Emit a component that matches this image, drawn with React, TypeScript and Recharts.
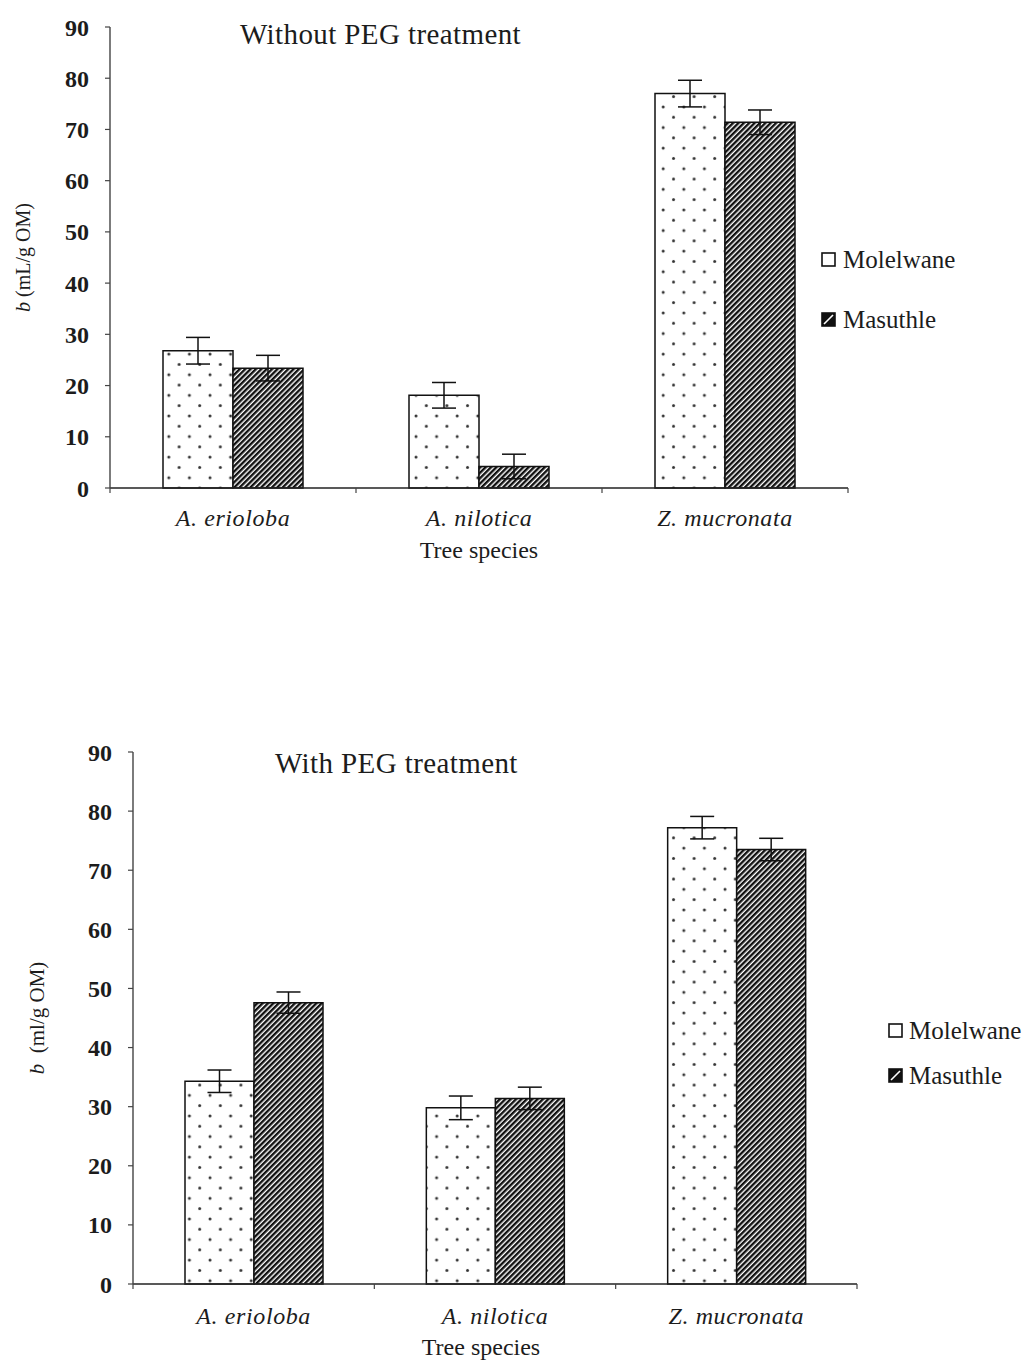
import React from 'react'
import { BarChart, Bar, XAxis, YAxis, ErrorBar, Legend, Label } from 'recharts'

const species = ['A. erioloba', 'A. nilotica', 'Z. mucronata']
const seriesNames = ['Molelwane', 'Masuthle']
const yTicks = [0, 10, 20, 30, 40, 50, 60, 70, 80, 90]

// Without PEG treatment
const withoutMolelwane = [26.8, 18.1, 77.0]
const withoutMolelwaneErr = [2.6, 2.5, 2.6]
const withoutMasuthle = [23.4, 4.2, 71.4]
const withoutMasuthleErr = [2.5, 2.4, 2.4]

// With PEG treatment
const withMolelwane = [34.3, 29.8, 77.2]
const withMolelwaneErr = [1.9, 2.0, 1.9]
const withMasuthle = [47.6, 31.4, 73.5]
const withMasuthleErr = [1.8, 1.9, 1.9]

const FONT = '"Liberation Serif", "Times New Roman", serif'
const INK = '#1c1c1c'
const CHART_W = 1028

const buildRows = (mol: number[], molErr: number[], mas: number[], masErr: number[]) =>
  species.map((s, i) => ({ species: s, mol: mol[i], molErr: molErr[i], mas: mas[i], masErr: masErr[i] }))

const withoutRows = buildRows(withoutMolelwane, withoutMolelwaneErr, withoutMasuthle, withoutMasuthleErr)
const withRows = buildRows(withMolelwane, withMolelwaneErr, withMasuthle, withMasuthleErr)

function Patterns() {
  return (
    <svg width={0} height={0} style={{ position: 'absolute' }}>
      <defs>
        <pattern id="dots" patternUnits="userSpaceOnUse" width={20.6} height={20.6}>
          <rect width={20.6} height={20.6} fill="#fff" />
          <circle cx={4} cy={4} r={1.5} fill="#333" />
          <circle cx={14.3} cy={14.3} r={1.5} fill="#333" />
        </pattern>
        <pattern id="hatch" patternUnits="userSpaceOnUse" width={3.8} height={3.8} patternTransform="rotate(45)">
          <rect width={3.8} height={3.8} fill="#fff" />
          <rect x={0} y={0} width={2.4} height={3.8} fill="#111" />
        </pattern>
      </defs>
    </svg>
  )
}

function PatternLegend({ gap, textGap }: { gap: number; textGap: number }) {
  return (
    <div style={{ fontFamily: FONT, fontSize: 25, color: INK, lineHeight: '28px', width: 'max-content' }}>
      {seriesNames.map((name, i) => (
        <div key={name} style={{ display: 'flex', alignItems: 'center', marginTop: i ? gap : 0, whiteSpace: 'nowrap' }}>
          <svg width={16} height={16} style={{ flexShrink: 0, display: 'block' }}>
            <rect x={1} y={1} width={13} height={13} fill={i ? '#111' : '#fff'} stroke="#111" strokeWidth={1.6} />
            {i ? <line x1={3} y1={12} x2={12} y2={3} stroke="#fff" strokeWidth={1.6} /> : null}
          </svg>
          <span style={{ marginLeft: textGap }}>{name}</span>
        </div>
      ))}
    </div>
  )
}

function YTitle({ viewBox, cx, unit, size }: any) {
  const cy = viewBox.y + viewBox.height / 2
  return (
    <text
      x={cx}
      y={cy}
      transform={`rotate(-90, ${cx}, ${cy})`}
      textAnchor="middle"
      dominantBaseline="central"
      fontFamily={FONT}
      fontSize={size}
      fill={INK}
    >
      <tspan fontStyle="italic">b</tspan>
      <tspan>{unit}</tspan>
    </text>
  )
}

// category tick: italic name, with small tick marks on the category boundaries
function SpeciesTick({ x, y, payload, index, band, gap }: any) {
  const half = band / 2
  return (
    <g>
      <line x1={x - half} x2={x - half} y1={y} y2={y + 5} stroke="#444" strokeWidth={1.2} />
      {index === species.length - 1 ? (
        <line x1={x + half} x2={x + half} y1={y} y2={y + 5} stroke="#444" strokeWidth={1.2} />
      ) : null}
      <text
        x={x}
        y={y + gap}
        dy="0.71em"
        textAnchor="middle"
        fontFamily={FONT}
        fontSize={24}
        fontStyle="italic"
        letterSpacing={0.6}
        fill={INK}
      >
        {payload.value}
      </text>
    </g>
  )
}

type PanelProps = {
  rows: any[]
  top: number
  height: number
  plotLeft: number
  marginTop: number
  marginRight: number
  axisHeight: number
  barSize: number
  labelMargin: number
  yLabelX: number
  yUnit: string
  yLabelSize: number
  speciesOffset: number
  speciesDx: number
  legendLeft: number
  legendTop: number
  legendGap: number
  legendTextGap: number
  title: string
  titleLeft: number
  titleTop: number
}

function Panel(p: PanelProps) {
  const band = (CHART_W - p.plotLeft - p.marginRight) / species.length
  return (
    <div style={{ position: 'absolute', left: 0, top: p.top, width: CHART_W, height: p.height }}>
      <div
        style={{
          position: 'absolute',
          left: p.titleLeft,
          top: p.titleTop,
          fontFamily: FONT,
          fontSize: 29,
          lineHeight: '29px',
          letterSpacing: 0.4,
          color: INK,
          whiteSpace: 'nowrap',
          zIndex: 2,
        }}
      >
        {p.title}
      </div>
      <BarChart
        width={CHART_W}
        height={p.height}
        data={p.rows}
        margin={{ top: p.marginTop, right: p.marginRight, bottom: 0, left: 0 }}
        barGap={0}
        barSize={p.barSize}
      >
        <XAxis
          dataKey="species"
          height={p.axisHeight}
          axisLine={{ stroke: '#222', strokeWidth: 1.5 }}
          tickLine={false}
          tickSize={0}
          tickMargin={0}
          interval={0}
          tick={(props: any) => <SpeciesTick {...props} band={band} gap={p.labelMargin} />}
        >
          <Label
            value="Tree species"
            position="insideBottom"
            offset={p.speciesOffset}
            dx={p.speciesDx}
            fontFamily={FONT}
            fontSize={24}
            fill={INK}
          />
        </XAxis>
        <YAxis
          domain={[0, 90]}
          ticks={yTicks}
          interval={0}
          width={p.plotLeft}
          axisLine={{ stroke: '#444', strokeWidth: 1.4 }}
          tickLine={{ stroke: '#444', strokeWidth: 1.2 }}
          tickSize={5}
          tickMargin={16}
          tick={{ fontFamily: FONT, fontSize: 24, fontWeight: 'bold', fill: INK }}
        >
          <Label content={(props: any) => <YTitle {...props} cx={p.yLabelX} unit={p.yUnit} size={p.yLabelSize} />} />
        </YAxis>
        <Legend
          layout="vertical"
          align="right"
          verticalAlign="middle"
          content={() => <PatternLegend gap={p.legendGap} textGap={p.legendTextGap} />}
          wrapperStyle={{ left: p.legendLeft, top: p.legendTop, width: 0, height: 0, overflow: 'visible' }}
        />
        <Bar dataKey="mol" name="Molelwane" fill="url(#dots)" stroke="#111" strokeWidth={1.5} isAnimationActive={false}>
          <ErrorBar dataKey="molErr" width={12} stroke="#111" strokeWidth={1.5} direction="y" />
        </Bar>
        <Bar dataKey="mas" name="Masuthle" fill="url(#hatch)" stroke="#111" strokeWidth={1.5} isAnimationActive={false}>
          <ErrorBar dataKey="masErr" width={12} stroke="#111" strokeWidth={1.5} direction="y" />
        </Bar>
      </BarChart>
    </div>
  )
}

export default function App() {
  return (
    <div style={{ position: 'absolute', left: 0, top: 0, width: CHART_W, height: 1360, background: '#fff' }}>
      <Patterns />
      <Panel
        rows={withoutRows}
        top={0}
        height={590}
        plotLeft={110}
        marginTop={27}
        marginRight={180}
        axisHeight={102}
        barSize={70}
        labelMargin={21}
        yLabelX={23}
        yUnit=" (mL/g OM)"
        yLabelSize={20}
        speciesOffset={32}
        speciesDx={0}
        legendLeft={821}
        legendTop={246}
        legendGap={32}
        legendTextGap={6}
        title="Without PEG treatment"
        titleLeft={240}
        titleTop={20}
      />
      <Panel
        rows={withRows}
        top={700}
        height={660}
        plotLeft={133}
        marginTop={52}
        marginRight={171}
        axisHeight={76}
        barSize={69}
        labelMargin={23}
        yLabelX={37}
        yUnit={'\u00a0\u00a0(ml/g OM)'}
        yLabelSize={21}
        speciesOffset={5}
        speciesDx={-14}
        legendLeft={888}
        legendTop={317}
        legendGap={17}
        legendTextGap={5}
        title="With PEG treatment"
        titleLeft={275}
        titleTop={49}
      />
    </div>
  )
}
